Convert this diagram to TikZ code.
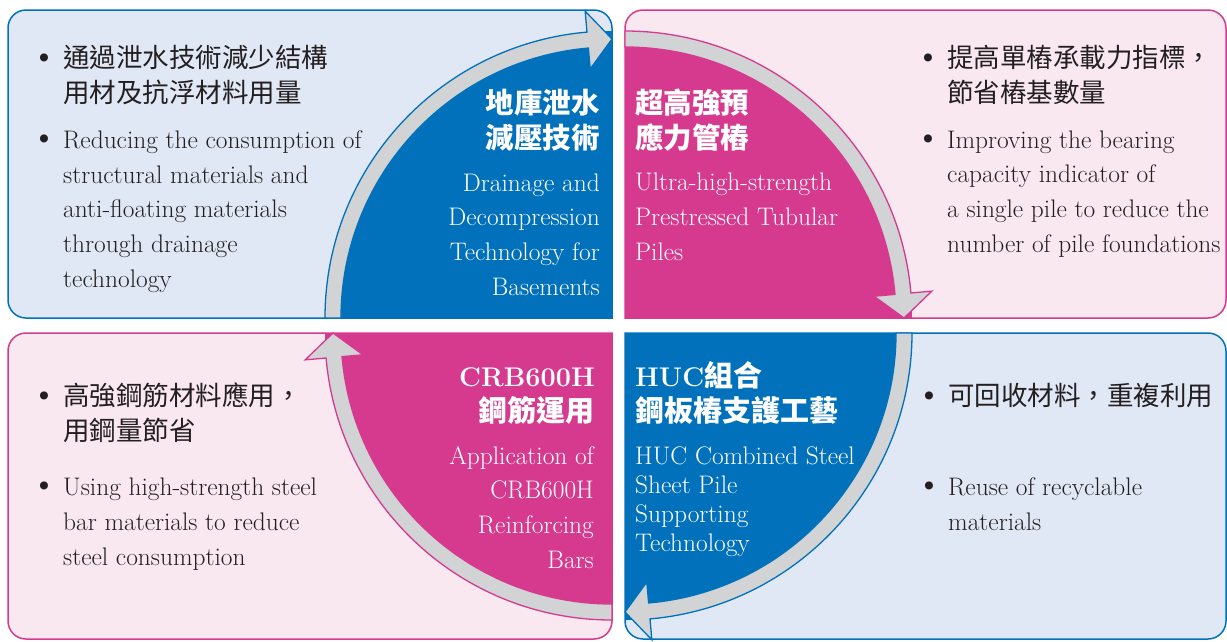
\documentclass[tikz,border=0pt]{standalone}
\usepackage{fontspec}
\newfontfamily\cjk{Noto Sans CJK TC}
\usepackage{tikz}
\usetikzlibrary{calc}
\definecolor{hkblue}{RGB}{0,113,186}
\definecolor{hkpink}{RGB}{214,58,143}
\definecolor{paleblue}{RGB}{225,232,245}
\definecolor{palepink}{RGB}{249,232,240}
\definecolor{ringgray}{RGB}{209,211,212}
\definecolor{ink}{RGB}{35,31,32}
\def\quadsector[#1](#2)(#3:#4){\fill[#1] (#2) -- ($(#2)+(#3:287)$) arc (#3:#4:287) -- cycle;}
\def\ringarrow[#1](#2)(#3:#4:#5){\filldraw[#1] ($(#2)+(#3:287)$) arc (#3:#4:287) -- ($(#2)+(#4:308)$) -- ($(#2)+(#5:279)$) -- ($(#2)+(#4:250)$) -- ($(#2)+(#4:271)$) arc (#4:#3:271) -- cycle;}
\def\bul{\leavevmode\llap{\rmfamily\fontsize{36}{36}\selectfont\textbullet\hskip 6pt}}
\tikzset{
  box/.style={line width=1.5},
  ring/.style={fill=ringgray, line width=1.3},
  zh/.style={anchor=base west, align=left, inner sep=0, text=ink, font=\cjk\fontsize{26.5}{35}\selectfont},
  en/.style={anchor=base west, align=left, inner sep=0, text=ink, font=\fontsize{25.4}{34.6}\selectfont},
  head/.style={inner sep=0, text=white, font=\bfseries\fontsize{27}{35}\selectfont},
  headzh/.style={inner sep=0, text=white, font=\cjk\bfseries\fontsize{28.5}{35}\selectfont},
  sub/.style={inner sep=0, text=white, font=\fontsize{25.4}{34.6}\selectfont}
}

\begin{document}
\begin{tikzpicture}[x=1pt,y=-1pt]
	%%%%% START %%%%%
	\useasboundingbox (0,0) rectangle (1227,641);
	
	% boxes, sharp corner at the centre
	\draw[box, fill=paleblue, draw=hkblue] (612,164) -- (612,318) -- (310,318) [rounded corners=18] -- (8,318) -- (8,10) -- (612,10) -- (612,164) [sharp corners] -- cycle;
	\draw[box, fill=palepink, draw=hkpink] (625,164) -- (625,318) -- (925,318) [rounded corners=18] -- (1226,318) -- (1226,10) -- (625,10) -- (625,164) [sharp corners] -- cycle;
	\draw[box, fill=palepink, draw=hkpink] (612,486) -- (612,333) -- (310,333) [rounded corners=18] -- (8,333) -- (8,639) -- (612,639) -- (612,486) [sharp corners] -- cycle;
	\draw[box, fill=paleblue, draw=hkblue] (625,486) -- (625,333) -- (925,333) [rounded corners=18] -- (1226,333) -- (1226,639) -- (625,639) -- (625,486) [sharp corners] -- cycle;
	
	\coordinate (tlc) at (612,318);
	\coordinate (trc) at (625,318);
	\coordinate (blc) at (612,333);
	\coordinate (brc) at (625,333);
	
	\quadsector[hkblue](tlc)(180:270);
	\quadsector[hkpink](trc)(270:360);
	\quadsector[hkpink](blc)(90:180);
	\quadsector[hkblue](brc)(0:90);
	
	\ringarrow[ring, draw=hkblue](tlc)(180:265:270);
	\ringarrow[ring, draw=hkpink](trc)(270:355:360);
	\ringarrow[ring, draw=hkpink](blc)(90:175:180);
	\ringarrow[ring, draw=hkblue](brc)(0:85:90);
	
	% top left
	\node[zh] (tlzh) at (63,102) {\bul 通過泄水技術減少結構\\用材及抗浮材料用量};
	\node[en] (tlen) at (63,287) {\bul Reducing the consumption of\\structural materials and\\anti-floating materials\\through drainage\\technology};
	\node[headzh, anchor=base east, align=right] (tlhead) at (600,148) {地庫泄水\\減壓技術};
	\node[sub, anchor=base east, align=right] (tlsub) at (600,295) {Drainage and\\Decompression\\Technology for\\Basements};
	
	% top right
	\node[zh] (trzh) at (947,102) {\bul 提高單樁承載力指標，\\節省樁基數量};
	\node[en] (tren) at (947,252) {\bul Improving the bearing\\capacity indicator of\\a single pile to reduce the\\number of pile foundations};
	\node[headzh, anchor=base west, align=left] (trhead) at (635,148) {超高強預\\應力管樁};
	\node[sub, anchor=base west, align=left] (trsub) at (635,260) {Ultra-high-strength\\Prestressed Tubular\\Piles};
	
	% bottom left
	\node[zh] (blzh) at (63,440) {\bul 高強鋼筋材料應用，\\用鋼量節省};
	\node[en] (blen) at (63,565) {\bul Using high-strength steel\\bar materials to reduce\\steel consumption};
	\node[head, anchor=base east, align=right] (blhead) at (595,421) {CRB600H\\{\cjk\fontsize{29}{35}\selectfont 鋼筋運用}};
	\node[sub, anchor=base east, align=right] (blsub) at (594,568) {Application of\\CRB600H\\Reinforcing\hspace*{7pt}\\Bars};
	
	% bottom right
	\node[zh] (brzh) at (948,405) {\bul 可回收材料，重複利用};
	\node[en] (bren) at (948,530) {\bul Reuse of recyclable\\materials};
	\node[head, anchor=base west, align=left] (brhead) at (635,421) {HUC{\cjk\fontsize{29}{35}\selectfont 組合}\\{\cjk\fontsize{29}{35}\selectfont 鋼板樁支護工藝}};
	\node[sub, anchor=base west, align=left, font=\fontsize{25.4}{29}\selectfont] (brsub) at (635,551) {HUC Combined Steel\\Sheet Pile\\Supporting\\Technology};
	
	%%%%% END %%%%%
\end{tikzpicture}
\end{document}
